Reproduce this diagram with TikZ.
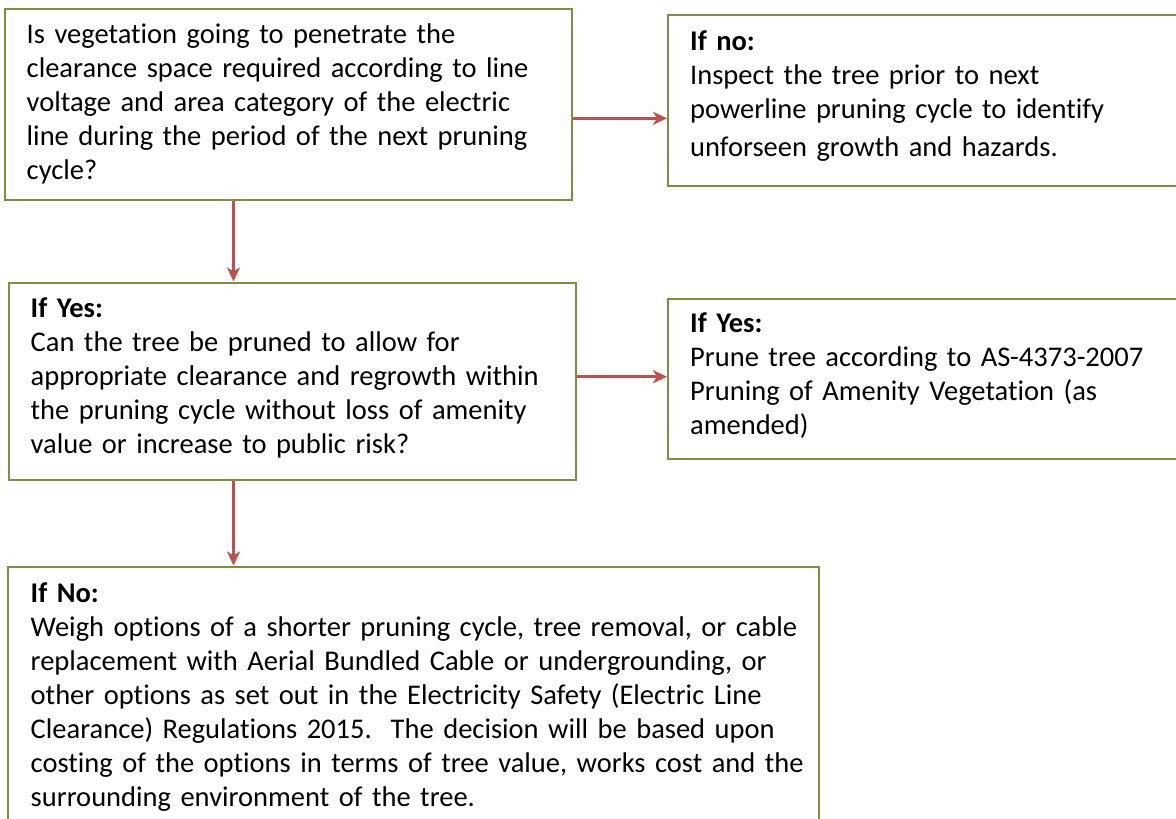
\documentclass[tikz,border=0pt]{standalone}
\usepackage{fontspec}
\setmainfont{Carlito}[Ligatures={NoCommon}]
\usetikzlibrary{arrows.meta}
\definecolor{boxgreen}{HTML}{77933C}
\definecolor{arrred}{HTML}{C0504D}
\tikzset{
  flowbox/.style={draw=boxgreen, line width=2pt, fill=white, inner sep=0pt},
  flowtext/.style={anchor=base west, inner sep=0pt, text width=800pt, align=left,
    font=\fontsize{28.5}{34}\selectfont},
  flowarrow/.style={draw=arrred, line width=2.6pt, -{Stealth[length=14pt,width=13pt,inset=4pt]}}
}
\begin{document}
\begin{tikzpicture}[x=1pt,y=-1pt]
\useasboundingbox (0,0) rectangle (1176,819);
\fill[white] (0,0) rectangle (1176,819);
% boxes
\node[flowbox, minimum width=567pt, minimum height=191pt] (A) at (288.5,104.5) {};
\node[flowbox, minimum width=520pt, minimum height=171pt] (N) at (928,100.8) {};
\node[flowbox, minimum width=567pt, minimum height=197pt] (B) at (292.5,381) {};
\node[flowbox, minimum width=520pt, minimum height=160pt] (C) at (928,379) {};
\node[flowbox, minimum width=811pt, minimum height=270pt] (D) at (413.5,701.5) {};
% texts
\node[flowtext] (tA) at (26.5,43.3) {Is vegetation going to penetrate the\\
clearance space required according to line\\
voltage and area category of the electric\\
line during the period of the next pruning\\
cycle?};
\node[flowtext] (tN) at (690,50) {\textbf{If no:}\\
Inspect the tree prior to next\\
powerline pruning cycle to identify\\[4pt]
unforseen growth and hazards.};
\node[flowtext] (tB) at (30.5,317.5) {\textbf{If Yes:}\\
Can the tree be pruned to allow for\\
appropriate clearance and regrowth within\\
the pruning cycle without loss of amenity\\
value or increase to public risk?};
\node[flowtext] (tC) at (690,332.3) {\textbf{If Yes:}\\
Prune tree according to AS-4373-2007\\
Pruning of Amenity Vegetation (as\\
amended)};
\node[flowtext] (tD) at (30.5,602) {\textbf{If No:}\\
Weigh options of a shorter pruning cycle, tree removal, or cable\\
replacement with Aerial Bundled Cable or undergrounding, or\\
other options as set out in the Electricity Safety (Electric Line\\
Clearance) Regulations 2015.\ \ The decision will be based upon\\
costing of the options in terms of tree value, works cost and the\\
surrounding environment of the tree.};
% connectors
\draw[flowarrow] ([yshift=-13.8pt]A.east) -- ([yshift=-13.8pt]A.east -| N.west);
\draw[flowarrow] ([xshift=-55pt]A.south) -- ([xshift=-55pt]A.south |- B.north);
\draw[flowarrow] ([yshift=4.3pt]B.east) -- ([yshift=4.3pt]B.east -| C.west);
\draw[flowarrow] ([xshift=-59pt]B.south) -- ([xshift=-59pt]B.south |- D.north);
\end{tikzpicture}
\end{document}
